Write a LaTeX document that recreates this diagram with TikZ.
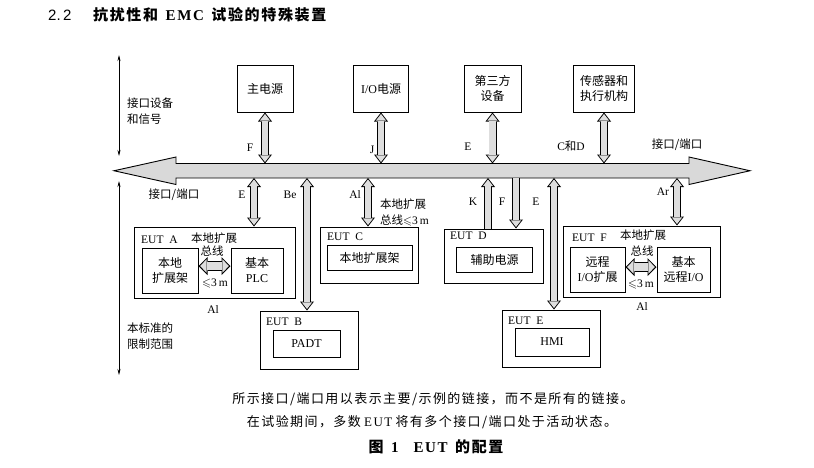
\documentclass[tikz,border=0pt]{standalone}
\usepackage{amssymb}
\usepackage{fontspec}
\setmainfont{Liberation Serif}
\setsansfont{Liberation Sans}
\newfontfamily\cjk{Noto Sans CJK SC}
\newfontfamily\cjkwide{Noto Sans CJK SC}[LetterSpace=11]
\newfontfamily\rmwide{Liberation Serif}[LetterSpace=11]
\newcommand\zh[1]{{\cjk #1}}
\newcommand\zhw[1]{{\cjkwide #1}}
\usetikzlibrary{arrows.meta}
\colorlet{buscolor}{black!15}
\colorlet{portcolor}{black!13}
\tikzset{
    % --- boxes and labels ---
    box/.style={draw, line width=1pt, inner sep=0pt, align=center, font=\fontsize{12}{15}\selectfont},
    eut/.style={draw, line width=1pt, inner sep=0pt},
    lbl/.style={inner sep=0pt, align=left, font=\fontsize{11.5}{16}\selectfont},
    note/.style={inner sep=0pt, font=\fontsize{13}{16}\selectfont},
    % --- bus, ranges and ports ---
    bus/.style={draw, line width=0.9pt, fill=buscolor, line join=miter},
    stdrange/.style={line width=0.7pt, {Stealth[length=6pt,width=3pt]}-{Stealth[length=6pt,width=3pt]}},
    dport/.style={line width=8pt,
        {Triangle[length=9pt,width=14pt,line width=0pt]}-{Triangle[length=9pt,width=14pt,line width=0pt]},
        postaction={draw=portcolor, line width=6.2pt, shorten <=1.5pt, shorten >=1.5pt,
        {Triangle[length=6.6pt,width=10.3pt,line width=0pt]}-{Triangle[length=6.6pt,width=10.3pt,line width=0pt]}}},
    sport/.style={line width=8pt,
        -{Triangle[length=9pt,width=14pt,line width=0pt]},
        postaction={draw=portcolor, line width=6.2pt, shorten >=1.5pt,
        -{Triangle[length=6.6pt,width=10.3pt,line width=0pt]}}},
    extbus/.style={line width=10pt,
        {Triangle[length=9pt,width=18pt,line width=0pt]}-{Triangle[length=9pt,width=18pt,line width=0pt]},
        postaction={draw=portcolor, line width=8.2pt, shorten <=1.6pt, shorten >=1.6pt,
        {Triangle[length=6.5pt,width=13.4pt,line width=0pt]}-{Triangle[length=6.5pt,width=13.4pt,line width=0pt]}}}
}

\begin{document}
\begin{tikzpicture}[x=1pt, y=-1pt]
    \useasboundingbox (0,0) rectangle (814,467);

    \node[anchor=west, inner sep=0pt, font=\fontsize{15}{18}\sffamily] (secno) at (48,15) {2.\,2};
    \node[anchor=west, inner sep=0pt, font=\fontsize{15}{18}\selectfont\bfseries] (title) at (93,15)
        {\zhw{抗扰性和}\enspace{\rmwide EMC}\enspace\zhw{试验的特殊装置}};

    % range of the standard
    \coordinate (axtop) at (119,55);
    \coordinate (axmid1) at (119,156);
    \coordinate (axmid2) at (119,181);
    \coordinate (axbot) at (119,375);
    \draw[stdrange] (axtop) -- (axmid1);
    \draw[stdrange] (axmid2) -- (axbot);
    \node[lbl, anchor=west] (sigs) at (127,111) {\zh{接口设备}\\\zh{和信号}};
    \node[lbl, anchor=west] (limits) at (127,336) {\zh{本标准的}\\\zh{限制范围}};

    % interface / port bus
    \coordinate (busN) at (0,163.5);
    \coordinate (busS) at (0,178);
    \draw[bus] (114,170.75) -- (176,157) -- (176,163.5) -- (689,163.5) -- (689,157)
        -- (750,170.75) -- (689,184.5) -- (689,178) -- (176,178) -- (176,184.5) -- cycle;
    \node[lbl] (portL) at (174,195) {\zh{接口/端口}};
    \node[lbl] (portR) at (677,145) {\zh{接口/端口}};

    % equipment above the bus
    \node[box, minimum width=56pt, minimum height=47pt] (mainpw) at (265,88.5) {\zh{主电源}};
    \node[box, minimum width=55pt, minimum height=47pt] (iopw) at (381,88.5) {I/O\zh{电源}};
    \node[box, minimum width=57pt, minimum height=47pt] (third) at (492.5,88.5) {\zh{第三方}\\\zh{设备}};
    \node[box, minimum width=61pt, minimum height=47pt] (sensor) at (604,88.5) {\zh{传感器和}\\\zh{执行机构}};

    \draw[dport] (mainpw.south) -- (mainpw.south |- busN);
    \draw[dport] (iopw.south) -- (iopw.south |- busN);
    \draw[dport] (third.south) -- (third.south |- busN);
    \draw[dport] (sensor.south) -- (sensor.south |- busN);

    \node[lbl] (lF) at (250,148) {F};
    \node[lbl] (lJ) at (372,150) {J};
    \node[lbl] (lE) at (468,147) {E};
    \node[lbl] (lCD) at (571,146) {C\zh{和}D};

    % EUTs below the bus
    \node[eut, minimum width=161pt, minimum height=71pt] (eutA) at (214.5,262.5) {};
    \node[eut, minimum width=98pt, minimum height=58pt] (eutB) at (309,340) {};
    \node[eut, minimum width=98pt, minimum height=56pt] (eutC) at (369,255) {};
    \node[eut, minimum width=99pt, minimum height=54pt] (eutD) at (493.5,256) {};
    \node[eut, minimum width=98pt, minimum height=57pt] (eutE) at (551,338.5) {};
    \node[eut, minimum width=157pt, minimum height=71pt] (eutF) at (641.5,261.5) {};

    \node[box, minimum width=56pt, minimum height=45pt] (rackA) at (170,270.5) {\zh{本地}\\\zh{扩展架}};
    \node[box, minimum width=52pt, minimum height=45pt] (plcA) at (257,270.5) {\zh{基本}\\PLC};
    \node[box, minimum width=67pt, minimum height=27pt] (padt) at (306.5,343.5) {PADT};
    \node[box, minimum width=85pt, minimum height=25pt] (rackC) at (369.5,257.5) {\zh{本地扩展架}};
    \node[box, minimum width=76pt, minimum height=25pt] (auxD) at (494.5,259.5) {\zh{辅助电源}};
    \node[box, minimum width=74pt, minimum height=28pt] (hmi) at (552,342) {HMI};
    \node[box, minimum width=55pt, minimum height=45pt] (remF) at (597.5,269.5) {\zh{远程}\\I/O\zh{扩展}};
    \node[box, minimum width=53pt, minimum height=45pt] (baseF) at (683.5,269.5) {\zh{基本}\\\zh{远程}I/O};

    \node[lbl, anchor=west] (nA) at (141,240) {EUT\enspace A};
    \node[lbl, anchor=west] (nB) at (266,322) {EUT\enspace B};
    \node[lbl, anchor=west] (nC) at (327,237) {EUT\enspace C};
    \node[lbl, anchor=west] (nD) at (450,236) {EUT\enspace D};
    \node[lbl, anchor=west] (nE) at (508,321) {EUT\enspace E};
    \node[lbl, anchor=west] (nF) at (572,238) {EUT\enspace F};

    % local extension buses
    \coordinate (extA) at (0,266);
    \coordinate (extF) at (0,267);
    \draw[extbus] (rackA.east |- extA) -- (plcA.west |- extA);
    \draw[extbus] (remF.east |- extF) -- (baseF.west |- extF);
    \node[lbl] (xA1) at (214,238) {\zh{本地扩展}};
    \node[lbl] (xA2) at (212,251) {\zh{总线}};
    \node[lbl] (xA3) at (215,283) {$\leqslant$3\,m};
    \node[lbl] (xA4) at (213,310) {Al};
    \node[lbl] (xF1) at (643,235) {\zh{本地扩展}};
    \node[lbl] (xF2) at (642,251) {\zh{总线}};
    \node[lbl] (xF3) at (641,284) {$\leqslant$3\,m};
    \node[lbl] (xF4) at (642,307) {Al};
    \node[lbl, anchor=west] (xC) at (380,212) {\zh{本地扩展}\\\zh{总线}$\leqslant$3\,m};

    % ports to the EUTs
    \coordinate (pE) at (254,0);
    \coordinate (pBe) at (307,0);
    \coordinate (pAl) at (368,0);
    \coordinate (pK) at (488,0);
    \coordinate (pF) at (516,0);
    \coordinate (pE2) at (554,0);
    \coordinate (pAr) at (677,0);
    \draw[dport] (pE |- busS) -- (pE |- eutA.north);
    \draw[dport] (pBe |- busS) -- (pBe |- eutB.north);
    \draw[dport] (pAl |- busS) -- (pAl |- eutC.north);
    \draw[sport] (pK |- eutD.north) -- (pK |- busS);
    \draw[sport] (pF |- busS) -- (pF |- eutD.north);
    \draw[dport] (pE2 |- busS) -- (pE2 |- eutE.north);
    \draw[dport] (pAr |- busS) -- (pAr |- eutF.north);

    \node[lbl] (lE2) at (242,195) {E};
    \node[lbl] (lBe) at (290,195) {Be};
    \node[lbl] (lAl) at (355,195) {Al};
    \node[lbl] (lK) at (473,202) {K};
    \node[lbl] (lF2) at (502,202) {F};
    \node[lbl] (lE3) at (536,202) {E};
    \node[lbl] (lAr) at (663,192) {Ar};

    % caption
    \node[note] (note1) at (433,399)
        {\zhw{所示接口/端口用以表示主要/示例的链接，而不是所有的链接。}};
    \node[note] (note2) at (432,422)
        {\zhw{在试验期间，多数}\ {\rmwide EUT}\ \zhw{将有多个接口/端口处于活动状态。}};
    \node[note, font=\fontsize{15}{18}\selectfont\bfseries] (cap) at (436,447)
        {\zhw{图}\enspace 1\quad{\rmwide EUT}\enspace\zhw{的配置}};
\end{tikzpicture}
\end{document}
